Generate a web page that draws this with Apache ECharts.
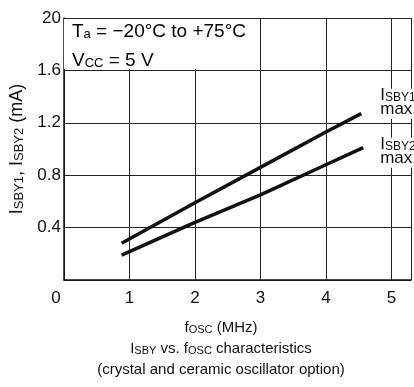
<!DOCTYPE html>
<html><head><meta charset="utf-8">
<script src="https://cdn.jsdelivr.net/npm/echarts@6/dist/echarts.min.js"></script>
<style>html,body{margin:0;padding:0;background:#fff}#c{width:414px;height:387px}</style>
</head><body><div id="c"></div>
<script>
const freq1 = [0.88, 2, 3, 4, 4.54];
const isby1 = [0.28, 0.59, 0.86, 1.13, 1.27];
const freq2 = [0.88, 2, 3, 4, 4.57];
const isby2 = [0.19, 0.44, 0.65, 0.88, 1.01];
const yTicks = ['', '0.4', '0.8', '1.2', '1.6', '20'];
const xTicks = ['0', '1', '2', '3', '4', '5'];

const F = 'Liberation Sans, Arial, sans-serif';
const C = '#111';
function st(size, lh, extra) { return Object.assign({fontSize: size, fontFamily: F, color: C, fontWeight: 'normal', lineHeight: lh, verticalAlign: 'bottom'}, extra || {}); }

const chart = echarts.init(document.getElementById('c'), null, {renderer: 'canvas'});
chart.setOption({
  animation: false,
  backgroundColor: '#fff',
  grid: {left: 63, top: 18, right: 0, bottom: 107},
  title: {
    text: '{n|f}{s|OSC}{n| (MHz)}\n{n|I}{s|SBY}{n| vs. f}{s|OSC}{n| characteristics}\n{n|(crystal and ceramic oscillator option)}',
    left: 221, top: 314, textAlign: 'center', padding: 0,
    textStyle: {fontWeight: 'normal', rich: {n: st(15, 21), s: st(11, 21)}}
  },
  xAxis: {
    type: 'value', min: 0, max: 5.3, interval: 1,
    axisLine: {show: true, lineStyle: {color: C, width: 1.5}},
    axisTick: {show: false},
    splitLine: {show: true, lineStyle: {color: '#222', width: 1}},
    axisLabel: {
      margin: 10, fontSize: 17, fontFamily: F, color: C,
      formatter: v => { const i = Math.round(v); if (Math.abs(v - i) > 1e-6 || i >= xTicks.length) return ''; return i === 0 ? '{o|' + xTicks[0] + '}' : xTicks[i]; },
      rich: {o: {fontSize: 17, fontFamily: F, color: C, padding: [0, 16, 0, 0]}}
    }
  },
  yAxis: {
    type: 'value', min: 0, max: 2, interval: 0.4,
    name: '{n|I}{s|SBY1}{n|, I}{s|SBY2}{n| (mA)}',
    nameLocation: 'middle', nameGap: 38, nameRotate: 90,
    nameTextStyle: {rich: {n: st(18, 20), s: st(13, 20)}},
    axisLine: {show: true, lineStyle: {color: C, width: 1.5}},
    axisTick: {show: false},
    splitLine: {show: true, lineStyle: {color: '#222', width: 1}},
    axisLabel: {
      margin: 3, fontSize: 17, fontFamily: F, color: C,
      formatter: v => yTicks[Math.round(v / 0.4)] || ''
    }
  },
  series: [
    {
      type: 'line', data: freq1.map((x, i) => [x, isby1[i]]), symbol: 'none',
      lineStyle: {color: C, width: 3.5}, z: 5,
      endLabel: {
        show: true, offset: [10, -10], align: 'left',
        backgroundColor: '#fff', padding: [1, 1, 1, 1],
        formatter: '{n|I}{s|SBY1}\n{n|max.}',
        rich: {n: st(17, 14), s: st(12, 14)}
      }
    },
    {
      type: 'line', data: freq2.map((x, i) => [x, isby2[i]]), symbol: 'none',
      lineStyle: {color: C, width: 3.5}, z: 5,
      endLabel: {
        show: true, offset: [8, 5], align: 'left',
        backgroundColor: '#fff', padding: [1, 1, 1, 1],
        formatter: '{n|I}{s|SBY2}\n{n|max.}',
        rich: {n: st(17, 14), s: st(12, 14)}
      }
    }
  ],
  graphic: [
    {type: 'rect', left: 64, top: 19, z: 9, shape: {width: 190, height: 50}, style: {fill: '#fff'}},
    {
      type: 'text', left: 72, top: 22, z: 10,
      style: {
        text: '{n|T}{s|a}{n| = \u221220\u00b0C to +75\u00b0C}\n{n|V}{s|CC}{n| = 5 V}',
        rich: {n: st(19, 29), s: st(13, 29)}
      }
    }
  ]
});
</script></body></html>
